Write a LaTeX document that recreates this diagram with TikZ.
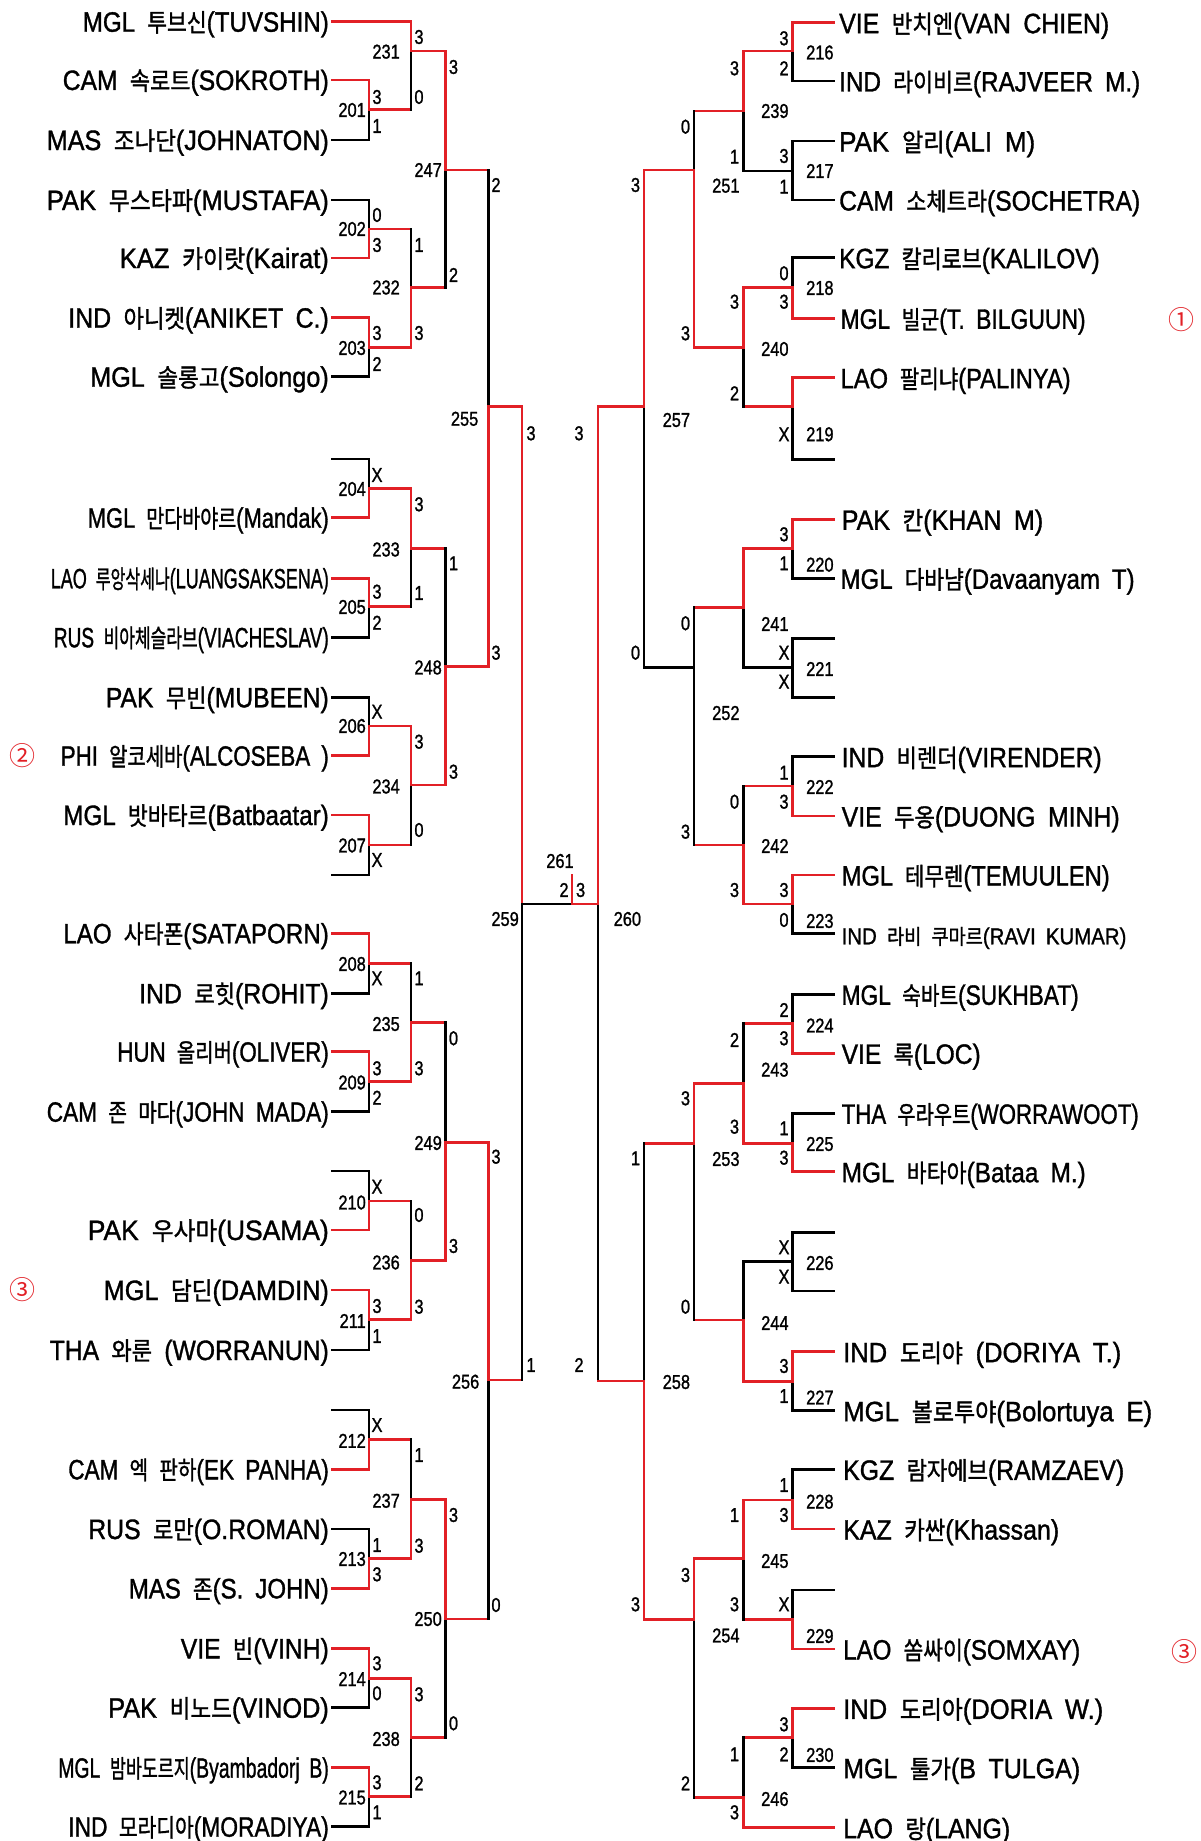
\documentclass[tikz,border=0pt]{standalone}
\usepackage{fontspec}
\usepackage{graphicx}
\setmainfont{Liberation Sans}[FakeBold=1.3]
\newfontfamily\hgfont{Noto Sans CJK KR}[FakeBold=1.4]
\newfontfamily\cfont{Noto Sans CJK KR}
\definecolor{rd}{RGB}{226,32,38}
\newcommand\hg{\hgfont\fontsize{25}{28}\selectfont}
\newcommand\nb[1]{\scalebox{0.82}[1]{#1}}
\newcounter{scn}
\tikzset{
  k/.style={draw=black,line width=2.7pt,line cap=rect},
  r/.style={draw=rd,line width=2.7pt,line cap=rect},
  pl/.style={inner sep=0pt,font=\fontsize{28}{30}\selectfont},
  sc/.style={inner sep=0pt,font=\fontsize{20}{22}\selectfont},
  lb/.style={inner sep=0pt,font=\fontsize{20}{22}\selectfont},
  circ/.style={inner sep=0pt,text=rd,font=\cfont\fontsize{26}{28}\selectfont},
}
% match: v, a(top), b(bottom), o(output), w(output end), ctop, cbot, cout
\newcommand\mtch[8]{%
  \draw[#6] (#1,#2) -- (#1,#4);
  \draw[#7] (#1,#4) -- (#1,#3);
  \draw[#8] (#1,#4) -- (#5,#4);}
\newcommand\scr[3]{\stepcounter{scn}\node[sc] (sc\arabic{scn}) at (#1,#2) {\nb{#3}};}
\newcommand\lbL[3]{\node[lb,anchor=east] (m#1) at (#2,#3) {\nb{#1}};}
\newcommand\lbR[3]{\node[lb,anchor=west] (m#1) at (#2,#3) {\nb{#1}};}
% left player: name, y, width, nation, hangul, latin, colour, line end
\newcommand\plL[8]{%
  \node[pl,anchor=base east] (#1) at (329,#2+10) {\resizebox{#3pt}{\height}{\spaceskip=0.5em\relax#4 {\hg #5}(#6)}};
  \draw[#7] (332.7,#2) -- (#8,#2);}
% right player: name, y, xstart, width, nation, hangul, latin, colour, line start
\newcommand\plR[9]{%
  \node[pl,anchor=base west] (#1) at (#3,#2+10.5) {\resizebox{#4pt}{\height}{\spaceskip=0.5em\relax#5 {\hg #6}(#7)}};
  \draw[#8] (#9,#2) -- (834,#2);}

\begin{document}
\begin{tikzpicture}[x=1pt,y=-1pt]
\fill[white] (0,0) rectangle (1201,1841);
\useasboundingbox (0,0) rectangle (1201,1841);

% ---------------- LEFT players ----------------
\plL{p1}{21.7}{246}{MGL}{투브신}{TUVSHIN}{r}{411}
\plL{p2}{80}{266}{CAM}{속로트}{SOKROTH}{r}{369}
\plL{p3}{140}{282}{MAS}{조나단}{JOHNATON}{k}{369}
\plL{p4}{200}{282}{PAK}{무스타파}{MUSTAFA}{k}{369}
\plL{p5}{258}{209}{KAZ}{카이랏}{Kairat}{r}{369}
\plL{p6}{317.7}{260.5}{IND}{아니켓}{ANIKET C.}{r}{369}
\plL{p7}{376.7}{238.6}{MGL}{솔롱고}{Solongo}{k}{369}
\plL{p8}{517.7}{241}{MGL}{만다바야르}{Mandak}{r}{369}
\plL{p9}{578.3}{278}{LAO}{루앙삭세나}{LUANGSAKSENA}{r}{369}
\plL{p10}{637.3}{275}{RUS}{비아체슬라브}{VIACHESLAV}{k}{369}
\plL{p11}{697.3}{223}{PAK}{무빈}{MUBEEN}{k}{369}
\plL{p12}{755.7}{268}{PHI}{알코세바}{ALCOSEBA }{r}{369}
\plL{p13}{815}{265.5}{MGL}{밧바타르}{Batbaatar}{r}{369}
\plL{p14}{933.3}{265.5}{LAO}{사타폰}{SATAPORN}{r}{369}
\plL{p15}{993.3}{189.6}{IND}{로힛}{ROHIT}{k}{369}
\plL{p16}{1051.7}{211.5}{HUN}{올리버}{OLIVER}{r}{369}
\plL{p17}{1111.7}{282}{CAM}{존 마다}{JOHN MADA}{k}{369}
\plL{p18}{1230}{241}{PAK}{우사마}{USAMA}{r}{369}
\plL{p19}{1290}{225}{MGL}{담딘}{DAMDIN}{r}{369}
\plL{p20}{1350}{279}{THA}{와룬 }{WORRANUN}{k}{369}
\plL{p21}{1469.3}{260.5}{CAM}{엑 판하}{EK PANHA}{r}{369}
\plL{p22}{1529}{240.5}{RUS}{로만}{O.ROMAN}{k}{369}
\plL{p23}{1588.3}{200}{MAS}{존}{S. JOHN}{r}{369}
\plL{p24}{1648.3}{148}{VIE}{빈}{VINH}{r}{369}
\plL{p25}{1707.7}{220.5}{PAK}{비노드}{VINOD}{k}{369}
\plL{p26}{1767.7}{270.5}{MGL}{밤바도르지}{Byambadorj B}{r}{369}
\plL{p27}{1826.7}{260.5}{IND}{모라디아}{MORADIYA}{k}{369}
% empty slots left
\draw[k] (332.7,459) -- (369,459);
\draw[k] (332.7,875) -- (369,875);
\draw[k] (332.7,1171) -- (369,1171);
\draw[k] (332.7,1410) -- (369,1410);

% ---------------- LEFT matches ----------------
\mtch{369}{80}{140}{109.5}{411}{r}{k}{r}
\mtch{369}{200}{258}{229}{411}{k}{r}{r}
\mtch{369}{317.7}{376.7}{347.3}{411}{r}{k}{r}
\mtch{411}{21.7}{109.5}{51}{445.5}{r}{k}{r}
\mtch{411}{229}{347.3}{287.3}{445.5}{k}{r}{r}
\mtch{445.5}{51}{287.3}{170}{488.5}{r}{k}{r}
\mtch{369}{459}{517.7}{488.3}{411}{k}{r}{r}
\mtch{369}{578.3}{637.3}{606.7}{411}{r}{k}{r}
\mtch{411}{488.3}{606.7}{548.3}{445.5}{r}{k}{r}
\mtch{369}{697.3}{755.7}{726}{411}{k}{r}{r}
\mtch{369}{815}{875}{845}{411}{r}{k}{r}
\mtch{411}{726}{845}{785}{445.5}{r}{k}{r}
\mtch{445.5}{548.3}{785}{666.7}{488.5}{k}{r}{r}
\mtch{488.5}{170}{666.7}{406.7}{522}{k}{r}{r}
\mtch{369}{933.3}{993.3}{963.3}{411}{r}{k}{r}
\mtch{369}{1051.7}{1111.7}{1081.7}{411}{r}{k}{r}
\mtch{411}{963.3}{1081.7}{1022.3}{445.5}{k}{r}{r}
\mtch{369}{1171}{1230}{1201}{411}{k}{r}{r}
\mtch{369}{1290}{1350}{1319.3}{411}{r}{k}{r}
\mtch{411}{1201}{1319.3}{1260.7}{445.5}{k}{r}{r}
\mtch{445.5}{1022.3}{1260.7}{1142.3}{488.5}{k}{r}{r}
\mtch{369}{1410}{1469.3}{1439.3}{411}{k}{r}{r}
\mtch{369}{1529}{1588.3}{1558.3}{411}{k}{r}{r}
\mtch{411}{1439.3}{1558.3}{1499.3}{445.5}{k}{r}{r}
\mtch{369}{1648.3}{1707.7}{1678.3}{411}{r}{k}{r}
\mtch{369}{1767.7}{1826.7}{1796.7}{411}{r}{k}{r}
\mtch{411}{1678.3}{1796.7}{1737.3}{445.5}{r}{k}{r}
\mtch{445.5}{1499.3}{1737.3}{1619}{488.5}{r}{k}{r}
\mtch{488.5}{1142.3}{1619}{1380}{522}{r}{k}{r}
\mtch{522}{406.7}{1380}{904}{572}{r}{k}{k}

% ---------------- FINAL ----------------
\mtch{598}{406.7}{1381}{904}{572}{r}{k}{r}
\draw[r] (572,875) -- (572,904);
\node[lb] (m261) at (560,861) {\nb{261}};
\scr{564}{890}{2}
\scr{580.6}{890}{3}

% ---------------- RIGHT players ----------------
\plR{q1}{22.7}{839}{270}{VIE}{반치엔}{VAN CHIEN}{r}{792.5}
\plR{q2}{81}{839}{301}{IND}{라이비르}{RAJVEER M.}{k}{792.5}
\plR{q3}{141}{839}{196}{PAK}{알리}{ALI M}{k}{792.5}
\plR{q4}{200}{839}{301}{CAM}{소체트라}{SOCHETRA}{k}{792.5}
\plR{q5}{257.7}{839}{260.5}{KGZ}{칼리로브}{KALILOV}{k}{792.5}
\plR{q6}{318.3}{840.4}{245}{MGL}{빌군}{T. BILGUUN}{r}{792.5}
\plR{q7}{377.7}{840.4}{230}{LAO}{팔리냐}{PALINYA}{r}{792.5}
\plR{q8}{519.3}{841.5}{201.5}{PAK}{칸}{KHAN M}{r}{792.5}
\plR{q9}{578.3}{840.4}{294}{MGL}{다바냠}{Davaanyam T}{k}{792.5}
\plR{q10}{756.7}{841.5}{260}{IND}{비렌더}{VIRENDER}{k}{792.5}
\plR{q11}{816}{841.5}{278}{VIE}{두옹}{DUONG MINH}{r}{792.5}
\plR{q12}{875}{841.5}{268}{MGL}{테무렌}{TEMUULEN}{r}{792.5}
\node[inner sep=0pt,anchor=base west,font=\fontsize{23}{25}\selectfont] (q13) at (841.5,944.3)
  {\resizebox{284.7pt}{\height}{\spaceskip=0.5em\relax IND {\hgfont\fontsize{21}{24}\selectfont 라비 쿠마르}(RAVI KUMAR)}};
\draw[k] (792.5,933.3) -- (834,933.3);
\plR{q14}{994.3}{841.5}{237}{MGL}{숙바트}{SUKHBAT}{k}{792.5}
\plR{q15}{1053.3}{841.5}{139}{VIE}{록}{LOC}{r}{792.5}
\plR{q16}{1113.3}{841.5}{297}{THA}{우라우트}{WORRAWOOT}{k}{792.5}
\plR{q17}{1171.7}{841.5}{244}{MGL}{바타아}{Bataa M.}{r}{792.5}
\plR{q18}{1351.7}{843}{278}{IND}{도리야 }{DORIYA T.}{r}{792.5}
\plR{q19}{1410.7}{843}{309}{MGL}{볼로투야}{Bolortuya E}{k}{792.5}
\plR{q20}{1469.3}{843}{281}{KGZ}{람자에브}{RAMZAEV}{k}{792.5}
\plR{q21}{1529}{843}{216}{KAZ}{카싼}{Khassan}{r}{792.5}
\plR{q22}{1649}{843}{237}{LAO}{쏨싸이}{SOMXAY}{r}{792.5}
\plR{q23}{1708.3}{843}{260}{IND}{도리아}{DORIA W.}{r}{792.5}
\plR{q24}{1767.7}{843}{237}{MGL}{툴가}{B TULGA}{k}{792.5}
\plR{q25}{1827.7}{843}{167}{LAO}{랑}{LANG}{r}{743.5}
% empty slots right
\draw[k] (792.5,459.3) -- (834,459.3);
\draw[k] (792.5,638.3) -- (834,638.3);
\draw[k] (792.5,697.3) -- (834,697.3);
\draw[k] (792.5,1232.7) -- (834,1232.7);
\draw[k] (792.5,1291) -- (834,1291);
\draw[k] (792.5,1590) -- (834,1590);

% ---------------- RIGHT matches ----------------
\mtch{792.5}{22.7}{81}{51}{743.5}{r}{k}{r}
\mtch{792.5}{141}{200}{171}{743.5}{k}{k}{k}
\mtch{792.5}{257.7}{318.3}{287.3}{743.5}{k}{r}{r}
\mtch{792.5}{377.7}{459.3}{406.7}{743.5}{r}{k}{r}
\mtch{792.5}{519.3}{578.3}{548.3}{743.5}{r}{k}{r}
\mtch{792.5}{638.3}{697.3}{667.3}{743.5}{k}{k}{k}
\mtch{792.5}{756.7}{816}{786}{743.5}{k}{r}{r}
\mtch{792.5}{875}{933.3}{904}{743.5}{r}{k}{r}
\mtch{792.5}{994.3}{1053.3}{1023.3}{743.5}{k}{r}{r}
\mtch{792.5}{1113.3}{1171.7}{1143.3}{743.5}{k}{r}{r}
\mtch{792.5}{1232.7}{1291}{1261.7}{743.5}{k}{k}{k}
\mtch{792.5}{1351.7}{1410.7}{1381.7}{743.5}{r}{k}{r}
\mtch{792.5}{1469.3}{1529}{1500}{743.5}{k}{r}{r}
\mtch{792.5}{1590}{1649}{1619.3}{743.5}{k}{r}{r}
\mtch{792.5}{1708.3}{1767.7}{1737.7}{743.5}{r}{k}{r}
\mtch{743.5}{51}{171}{111}{694}{r}{k}{r}
\mtch{743.5}{287.3}{406.7}{347.3}{694}{r}{k}{r}
\mtch{743.5}{548.3}{667.3}{607.7}{694}{r}{k}{r}
\mtch{743.5}{786}{904}{845}{694}{k}{r}{r}
\mtch{743.5}{1023.3}{1143.3}{1083.3}{694}{k}{r}{r}
\mtch{743.5}{1261.7}{1381.7}{1320}{694}{k}{r}{r}
\mtch{743.5}{1500}{1619.3}{1558.3}{694}{r}{k}{r}
\mtch{743.5}{1737.7}{1827.7}{1797.7}{694}{k}{r}{r}
\mtch{694}{111}{347.3}{170}{644}{k}{r}{r}
\mtch{694}{607.7}{845}{667.3}{644}{k}{k}{k}
\mtch{694}{1083.3}{1320}{1143.3}{644}{r}{k}{r}
\mtch{694}{1558.3}{1797.7}{1619.3}{644}{r}{k}{r}
\mtch{644}{170}{667.3}{406.7}{598}{r}{k}{r}
\mtch{644}{1143.3}{1619.3}{1381}{598}{k}{r}{r}

% ---------------- match numbers ----------------
\lbL{201}{366}{110}\lbL{202}{366}{229}\lbL{203}{366}{348}
\lbL{204}{366}{489}\lbL{205}{366}{607}\lbL{206}{366}{726}\lbL{207}{366}{845.5}
\lbL{208}{366}{964}\lbL{209}{366}{1082.5}\lbL{210}{366}{1202.5}\lbL{211}{366}{1321}
\lbL{212}{366}{1440.8}\lbL{213}{366}{1559}\lbL{214}{366}{1679}\lbL{215}{366}{1797.5}
\lbL{231}{400}{51.7}\lbL{232}{400}{287.5}\lbL{233}{400}{549.5}\lbL{234}{400}{786.5}
\lbL{235}{400}{1024}\lbL{236}{400}{1262.5}\lbL{237}{400}{1500.8}\lbL{238}{400}{1739}
\lbL{247}{442}{170}\lbL{248}{442}{667.5}\lbL{249}{442}{1143}\lbL{250}{442}{1619}
\lbL{255}{478.5}{418.8}\lbL{256}{479.5}{1381.7}\lbL{259}{519}{919}
\lbR{216}{806}{52.5}\lbR{217}{806}{171}\lbR{218}{806}{288}\lbR{219}{806}{434.3}
\lbR{220}{806}{564.7}\lbR{221}{806}{669}\lbR{222}{806}{787}\lbR{223}{806}{921}
\lbR{224}{806}{1025.5}\lbR{225}{806}{1144}\lbR{226}{806}{1263}\lbR{227}{806}{1397.5}
\lbR{228}{806}{1501.7}\lbR{229}{806}{1636}\lbR{230}{806}{1755}
\lbR{239}{761}{111}\lbR{240}{761}{349}\lbR{241}{761}{624}\lbR{242}{761}{846}
\lbR{243}{761}{1069.7}\lbR{244}{761}{1323}\lbR{245}{761}{1561}\lbR{246}{761}{1799}
\lbR{251}{712}{185.7}\lbR{252}{712}{713}\lbR{253}{712}{1159}\lbR{254}{712}{1635.5}
\lbR{257}{662.5}{420}\lbR{258}{662.5}{1382}\lbR{260}{613.5}{919}

% ---------------- scores left ----------------
\scr{377}{97}{3}\scr{377}{126}{1}
\scr{377}{215}{0}\scr{377}{245}{3}
\scr{377}{333}{3}\scr{377}{364}{2}
\scr{377}{475}{X}
\scr{377}{591.7}{3}\scr{377}{622.7}{2}
\scr{377}{711.7}{X}
\scr{377}{860}{X}
\scr{377}{978.3}{X}
\scr{377}{1068.3}{3}\scr{377}{1097.7}{2}
\scr{377}{1186.7}{X}
\scr{377}{1306}{3}\scr{377}{1336}{1}
\scr{377}{1425}{X}
\scr{377}{1545}{1}\scr{377}{1574.3}{3}
\scr{377}{1663.3}{3}\scr{377}{1693.3}{0}
\scr{377}{1782.3}{3}\scr{377}{1812.3}{1}
\scr{419}{37}{3}\scr{419}{97}{0}
\scr{419}{245}{1}\scr{419}{333}{3}
\scr{419}{504.3}{3}\scr{419}{593}{1}
\scr{419}{741.7}{3}\scr{419}{830}{0}
\scr{419}{978.3}{1}\scr{419}{1068.3}{3}
\scr{419}{1215}{0}\scr{419}{1306.7}{3}
\scr{419}{1455}{1}\scr{419}{1545.7}{3}
\scr{419}{1694.3}{3}\scr{419}{1783.3}{2}
\scr{453.5}{67}{3}\scr{453.5}{275}{2}
\scr{453.5}{563.3}{1}\scr{453.5}{771.7}{3}
\scr{453.5}{1038.3}{0}\scr{453.5}{1246}{3}
\scr{453.5}{1515}{3}\scr{453.5}{1723.3}{0}
\scr{496}{185}{2}\scr{496}{652.7}{3}
\scr{496}{1156.7}{3}\scr{496}{1605}{0}
\scr{531}{433.3}{3}\scr{531}{1365}{1}

% ---------------- scores right ----------------
\scr{784}{38.3}{3}\scr{784}{68.3}{2}
\scr{784}{156}{3}\scr{784}{186.7}{1}
\scr{784}{273.3}{0}\scr{784}{301.7}{3}
\scr{784}{434.3}{X}
\scr{784}{534.3}{3}\scr{784}{563.3}{1}
\scr{784}{652.7}{X}\scr{784}{681.7}{X}
\scr{784}{772.7}{1}\scr{784}{801.7}{3}
\scr{784}{890}{3}\scr{784}{920}{0}
\scr{784}{1010}{2}\scr{784}{1038.3}{3}
\scr{784}{1128.3}{1}\scr{784}{1157.7}{3}
\scr{784}{1247.3}{X}\scr{784}{1276.7}{X}
\scr{784}{1366}{3}\scr{784}{1396}{1}
\scr{784}{1485}{1}\scr{784}{1515}{3}
\scr{784}{1604.3}{X}
\scr{784}{1724.3}{3}\scr{784}{1754.3}{2}
\scr{734.5}{68.3}{3}\scr{734.5}{156.7}{1}
\scr{734.5}{301.7}{3}\scr{734.5}{393.3}{2}
\scr{734.5}{801.7}{0}\scr{734.5}{890}{3}
\scr{734.5}{1040}{2}\scr{734.5}{1126.7}{3}
\scr{734.5}{1515}{1}\scr{734.5}{1604.3}{3}
\scr{734.5}{1754.3}{1}\scr{734.5}{1812.3}{3}
\scr{685.5}{126.7}{0}\scr{685.5}{333.3}{3}
\scr{685.5}{623.3}{0}\scr{685.5}{831.7}{3}
\scr{685.5}{1098.3}{3}\scr{685.5}{1306.7}{0}
\scr{685.5}{1575}{3}\scr{685.5}{1783.3}{2}
\scr{635.5}{185}{3}\scr{635.5}{652.7}{0}
\scr{635.5}{1158.3}{1}\scr{635.5}{1604.3}{3}
\scr{579}{433.3}{3}\scr{579}{1365}{2}

% ---------------- circled marks ----------------
\node[circ] (c2) at (22.3,755.7) {②};
\node[circ] (c3a) at (22.3,1290) {③};
\node[circ] (c1) at (1181,320) {①};
\node[circ] (c3b) at (1184.6,1651.7) {③};
\end{tikzpicture}
\end{document}
